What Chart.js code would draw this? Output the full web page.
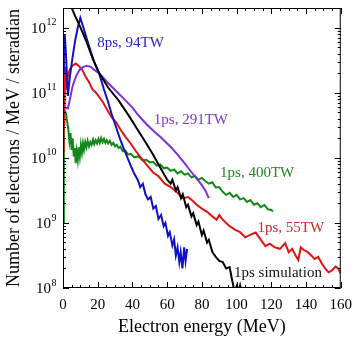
<!DOCTYPE html>
<html>
<head>
<meta charset="utf-8">
<script src="https://cdn.jsdelivr.net/npm/chart.js@4/dist/chart.umd.min.js"></script>
<style>
  html, body { margin: 0; padding: 0; background: #fff; }
  #wrap { width: 360px; height: 343px; position: relative; }
</style>
</head>
<body>
<div id="wrap"><canvas id="spectrum"></canvas></div>
<script>
// electron energy (MeV) and counts (electrons / MeV / sr)
var simE = [3, 5, 7, 9.6, 12, 14, 17, 20.8, 26, 32, 38, 43, 48, 52, 56, 60, 62, 63, 65, 66, 68, 69, 71, 72, 74, 75, 77, 78, 80, 81, 83, 84, 86, 88, 90, 92, 94, 96, 97, 98, 99, 100, 101, 102, 103, 104];
var simV = [2.8e12, 2.0e12, 1.5e12, 1.07e12, 7.6e11, 5.6e11, 3.4e11, 2.0e11, 1.2e11, 7.6e10, 4.4e10, 2.7e10, 1.66e10, 1.1e10, 7.1e9, 4.6e9, 4.0e9, 4.6e9, 3.16e9, 3.55e9, 2.4e9, 2.75e9, 1.74e9, 1.9e9, 1.26e9, 1.41e9, 9.3e8, 1.05e9, 6.5e8, 7.6e8, 5.0e8, 5.5e8, 3.6e8, 3.0e8, 2.6e8, 2.5e8, 2.0e8, 2.1e8, 1.5e8, 1.12e8, 7.9e7, 1.05e8, 8.9e7, 1.1e8, 8.3e7, 1.0e8];

var ps8E = [0, 0.5, 1, 1.8, 2.8, 4, 5.5, 7, 8.5, 10, 12, 14, 16, 18, 20.8, 23.7, 26, 28, 30.5, 33, 35, 37, 39, 41, 43, 44.5, 46, 47.5, 49, 50.5, 52, 53.5, 55, 56.5, 58, 59, 60.5, 61.5, 63, 64, 65, 66, 67, 67.8, 68.8, 69.8, 70.6, 71.5];
var ps8V = [2.0e11, 5.6e11, 7.9e11, 3.5e11, 8.9e10, 1.8e11, 3.5e11, 6.3e11, 1.0e12, 1.41e12, 9.5e11, 6.3e11, 4.3e11, 2.95e11, 2.0e11, 1.1e11, 7.2e10, 4.7e10, 3.0e10, 1.9e10, 1.38e10, 1.02e10, 7.6e9, 5.75e9, 4.6e9, 3.55e9, 4.0e9, 2.75e9, 2.3e9, 2.5e9, 1.66e9, 1.82e9, 1.15e9, 1.32e9, 8.9e8, 1.0e9, 6.3e8, 7.2e8, 4.5e8, 5.6e8, 3.16e8, 4.2e8, 2.5e8, 3.55e8, 2.0e8, 4.2e8, 2.6e8, 4.0e8];

var tw55E = [0, 0.4, 0.8, 1.2, 1.8, 2.8, 4, 5.5, 7.3, 9, 11, 13, 15, 17, 19, 21, 23, 25.5, 28, 30.5, 33, 36, 39, 42, 45, 48, 51.8, 55, 58.6, 62, 66, 69, 72, 75, 77, 80, 83, 86, 88.5, 90, 92, 94, 96, 99, 102, 105, 108, 111, 114, 116.6, 119, 122, 125, 128, 130, 132, 134, 135.5, 137, 139, 141, 143, 145, 147, 149, 151, 153, 155, 157, 158.5, 160];
var tw55V = [1.26e10, 7.1e11, 3.16e10, 2.5e11, 1.12e11, 1.82e11, 2.3e11, 2.6e11, 2.8e11, 2.6e11, 2.24e11, 1.78e11, 1.45e11, 1.12e11, 1.0e11, 8.5e10, 7.1e10, 5.4e10, 4.2e10, 3.55e10, 2.75e10, 2.1e10, 1.66e10, 1.26e10, 1.0e10, 7.9e9, 6.0e9, 5.2e9, 4.0e9, 3.55e9, 2.9e9, 2.4e9, 2.5e9, 2.15e9, 1.9e9, 1.66e9, 1.48e9, 1.26e9, 1.12e9, 1.32e9, 1.12e9, 1.0e9, 8.9e8, 7.9e8, 7.2e8, 6.0e8, 6.6e8, 7.1e8, 5.5e8, 4.4e8, 4.8e8, 4.2e8, 4.0e8, 4.9e8, 3.55e8, 4.0e8, 3.16e8, 2.7e8, 4.2e8, 3.8e8, 3.55e8, 3.16e8, 2.8e8, 3.0e8, 2.4e8, 2.0e8, 1.74e8, 1.86e8, 2.14e8, 2.0e8, 1.66e8];

var tw291E = [0, 1.5, 2.8, 4, 5.5, 7.5, 9.5, 11.3, 13.5, 16, 18, 20.8, 25, 30, 35, 40, 43.4, 48, 52, 56, 60, 62, 66, 70, 74, 77, 80, 82, 84];
var tw291V = [6.3e10, 5.9e10, 5.75e10, 7.9e10, 1.26e11, 1.78e11, 2.24e11, 2.45e11, 2.6e11, 2.5e11, 2.24e11, 2.0e11, 1.5e11, 1.1e11, 8.1e10, 5.9e10, 4.5e10, 3.3e10, 2.6e10, 2.1e10, 1.66e10, 1.48e10, 1.12e10, 8.3e9, 6.0e9, 4.8e9, 3.8e9, 3.16e9, 2.4e9];

var tw400E = [0, 0.5, 1.7, 3, 3.7, 4.3, 5, 5.6, 6.2, 6.8, 7.3, 7.9, 8.5, 9.1, 9.7, 10.3, 10.9, 11.5, 12.1, 12.8, 13.5, 14.2, 15, 15.8, 16.5, 17.3, 18, 18.8, 19.6, 20.4, 21.2, 22, 22.8, 23.6, 24.4, 25.2, 26, 27, 28, 29, 30, 31, 32, 33, 34.5, 36, 37.5, 39, 41, 43.4, 46, 48, 50, 52, 54, 56, 58, 60, 62, 64, 66, 68, 70, 72, 74, 76, 78, 80, 82, 84, 86, 88, 90, 92, 94, 96, 98, 100, 102, 104, 106, 108, 110, 112, 114, 116, 118, 120, 121];
var tw400V = [1.0e9, 5.6e10, 4.8e10, 2.8e10, 1.78e10, 2.4e10, 1.32e10, 2.0e10, 1.05e10, 1.41e10, 8.3e9, 1.26e10, 9.3e9, 1.45e10, 1.05e10, 1.58e10, 1.2e10, 1.66e10, 1.32e10, 1.74e10, 1.45e10, 1.82e10, 1.5e10, 1.74e10, 1.58e10, 1.9e10, 1.62e10, 1.86e10, 1.66e10, 1.95e10, 1.7e10, 2.0e10, 1.74e10, 1.95e10, 1.7e10, 1.86e10, 1.66e10, 1.82e10, 1.58e10, 1.7e10, 1.5e10, 1.58e10, 1.41e10, 1.48e10, 1.26e10, 1.29e10, 1.12e10, 1.15e10, 1.02e10, 1.05e10, 9.1e9, 9.3e9, 8.5e9, 8.7e9, 7.6e9, 7.9e9, 6.9e9, 7.1e9, 6.3e9, 6.6e9, 5.75e9, 6.2e9, 5.5e9, 5.75e9, 5.0e9, 5.25e9, 4.6e9, 4.9e9, 4.4e9, 4.0e9, 4.2e9, 3.5e9, 3.55e9, 3.0e9, 2.7e9, 2.9e9, 2.5e9, 2.7e9, 2.3e9, 2.4e9, 2.1e9, 2.24e9, 1.9e9, 2.0e9, 1.74e9, 1.9e9, 1.62e9, 1.58e9, 1.5e9];

var decadeTicks = [1e8, 1e9, 1e10, 1e11, 1e12];
var energyTicks = [0, 20, 40, 60, 80, 100, 120, 140, 160];

// curve labels: text, colour, left edge energy, vertical centre value
var curveLabels = [
  ['8ps, 94TW', '#2424cc', 19.7, 5.7e11],
  ['1ps, 291TW', '#7a38c8', 52.3, 3.8e10],
  ['1ps, 400TW', '#1d8a1d', 90.5, 5.8e9],
  ['1ps, 55TW', '#d62626', 112, 8.3e8],
  ['1ps simulation', '#111111', 98.5, 1.7e8]
];

function pts(e, v) {
  return e.map(function(x, i) { return {x: x, y: v[i]}; });
}

function series(label, e, v, color) {
  return {
    label: label,
    data: pts(e, v),
    borderColor: color,
    backgroundColor: color,
    borderWidth: 2,
    pointRadius: 0,
    tension: 0,
    fill: false
  };
}

var SERIF = '"Liberation Serif", "Times New Roman", serif';

// frame, inward ticks on all four sides, y labels with exponents, curve labels
var decor = {
  id: 'decor',
  afterDraw: function(chart) {
    var ctx = chart.ctx, a = chart.chartArea;
    var xs = chart.scales.x, ys = chart.scales.y;
    ctx.save();
    ctx.strokeStyle = '#000';
    ctx.lineWidth = 1;
    ctx.strokeRect(a.left + 0.5, a.top + 0.5, a.right - a.left - 1, a.bottom - a.top - 1);

    ctx.beginPath();
    for (var v = 0; v <= 160; v += 5) {
      var px = Math.round(xs.getPixelForValue(v)) + 0.5;
      var len = v % 20 === 0 ? 6 : 3;
      ctx.moveTo(px, a.bottom); ctx.lineTo(px, a.bottom - len);
      ctx.moveTo(px, a.top); ctx.lineTo(px, a.top + len);
    }
    for (var d = 8; d <= 12; d++) {
      for (var m = 1; m <= 9; m++) {
        var val = m * Math.pow(10, d);
        if (val > ys.max) break;
        var py = Math.round(ys.getPixelForValue(val)) + 0.5;
        var l = m === 1 ? 6 : 3;
        ctx.moveTo(a.left, py); ctx.lineTo(a.left + l, py);
        ctx.moveTo(a.right, py); ctx.lineTo(a.right - l, py);
      }
    }
    ctx.stroke();

    ctx.fillStyle = '#000';
    ctx.textBaseline = 'middle';
    ctx.textAlign = 'left';
    decadeTicks.forEach(function(t) {
      var y = ys.getPixelForValue(t);
      var exp = String(Math.round(Math.log10(t)));
      ctx.font = '15px ' + SERIF;
      var wb = ctx.measureText('10').width;
      ctx.font = '10px ' + SERIF;
      var we = ctx.measureText(exp).width;
      var x0 = a.left - 7 - we - wb;
      ctx.font = '15px ' + SERIF;
      ctx.fillText('10', x0, y + 1);
      ctx.font = '10px ' + SERIF;
      ctx.fillText(exp, x0 + wb + 0.5, y - 5);
    });

    ctx.font = '15px ' + SERIF;
    curveLabels.forEach(function(c) {
      ctx.fillStyle = c[1];
      ctx.fillText(c[0], xs.getPixelForValue(c[2]), ys.getPixelForValue(c[3]));
    });
    ctx.restore();
  }
};

new Chart(document.getElementById('spectrum'), {
  type: 'line',
  data: {
    datasets: [
      series('1ps simulation', simE, simV, '#000000'),
      series('8ps, 94TW', ps8E, ps8V, '#1212c4'),
      series('1ps, 291TW', tw291E, tw291V, '#7f2fdc'),
      series('1ps, 55TW', tw55E, tw55V, '#e01414'),
      series('1ps, 400TW', tw400E, tw400V, '#118818')
    ]
  },
  options: {
    responsive: true,
    maintainAspectRatio: false,
    animation: false,
    layout: { padding: { top: 8, right: 13, bottom: 0, left: 0 } },
    plugins: { legend: { display: false }, tooltip: { enabled: false } },
    scales: {
      x: {
        type: 'linear',
        min: 0,
        max: 160,
        afterFit: function(s) { s.height = 55; },
        afterBuildTicks: function(s) { s.ticks = energyTicks.map(function(v) { return {value: v}; }); },
        grid: { display: false, drawTicks: false },
        border: { display: false },
        ticks: { color: '#000', padding: 8, maxRotation: 0, font: { family: SERIF, size: 15 } },
        title: {
          display: true,
          text: 'Electron energy (MeV)',
          color: '#000',
          font: { family: SERIF, size: 18 },
          padding: { top: 0, bottom: 5 }
        }
      },
      y: {
        type: 'logarithmic',
        min: 1e8,
        max: 2e12,
        afterFit: function(s) { s.width = 63; },
        afterBuildTicks: function(s) { s.ticks = decadeTicks.map(function(v) { return {value: v}; }); },
        grid: { display: false, drawTicks: false },
        border: { display: false },
        ticks: { display: false },
        title: {
          display: true,
          text: 'Number of electrons / MeV / steradian',
          color: '#000',
          font: { family: SERIF, size: 18 },
          padding: { top: 3, bottom: 0 }
        }
      }
    }
  },
  plugins: [decor]
});
</script>
</body>
</html>
